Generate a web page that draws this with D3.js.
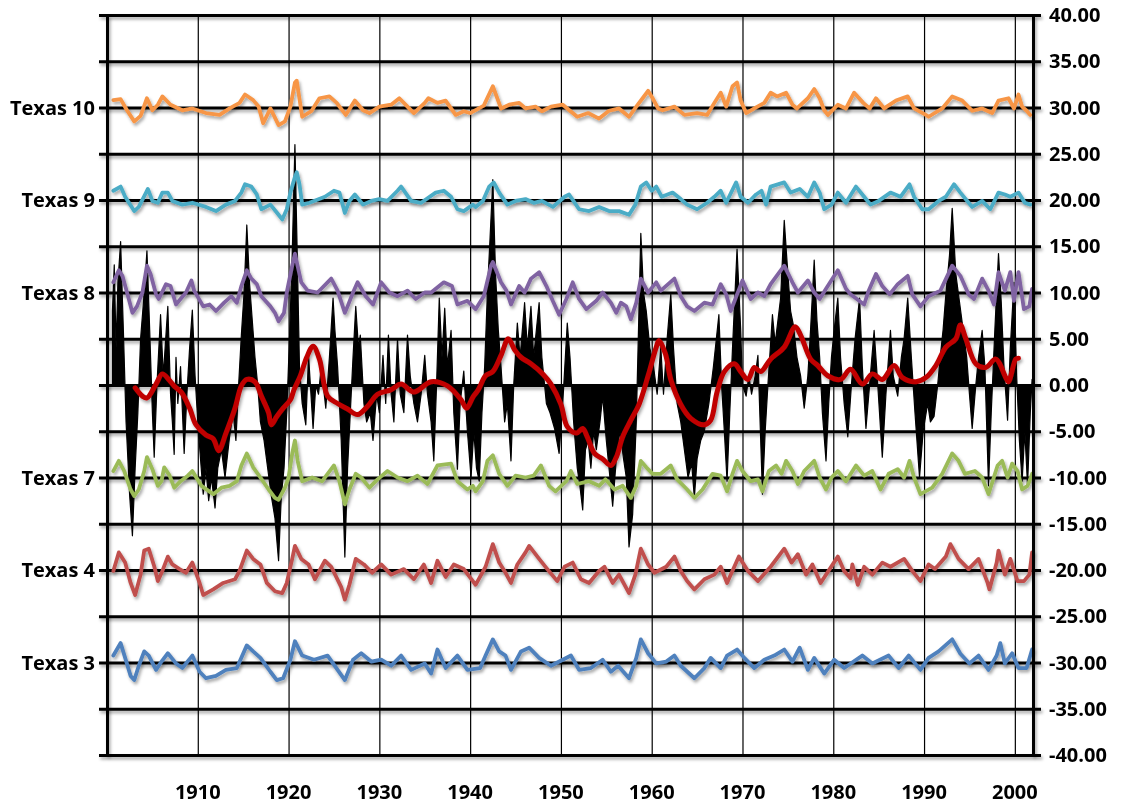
<!DOCTYPE html>
<html lang="en">
<head>
<meta charset="utf-8">
<title>Texas climate divisions</title>
<script src="https://d3js.org/d3.v7.min.js"></script>
<style>
  html, body { margin: 0; padding: 0; background: #fff; overflow: hidden; }
  svg { display: block; }
  text { font-family: "Open Sans", "DejaVu Sans", sans-serif; font-weight: 700; fill: #000; }
</style>
</head>
<body>
<script>

// ---- data: [year, value], division series are deviations from their offset ----
var names   = ["Texas 10", "Texas 9", "Texas 8", "Texas 7", "Texas 4", "Texas 3"];
var offsets = [30, 20, 10, -10, -20, -30];
var xTicks  = [1910, 1920, 1930, 1940, 1950, 1960, 1970, 1980, 1990, 2000];
var yTicks  = d3.range(-40, 41, 5);

var texas10 = [[1900.7,0.8],[1901.5,0.9],[1902.2,-0.3],[1903,-1.5],[1903.7,-0.9],[1904.4,1.0],[1905,-0.3],[1905.6,0.3],[1906.1,1.2],[1907,0.3],[1908.3,-0.3],[1909.4,-0.1],[1910.9,-0.6],[1912.4,-0.8],[1913.5,-0.1],[1914.6,0.5],[1915.2,1.4],[1916.1,0.8],[1916.7,0.1],[1917.2,-1.7],[1918,-0.1],[1918.9,-1.9],[1919.6,-1.5],[1920.2,0.1],[1920.7,2.7],[1920.9,2.9],[1921.5,-1.0],[1922.5,-0.4],[1923.4,1.0],[1924.5,1.2],[1925.3,0.5],[1926.3,-0.8],[1927.3,0.75],[1928.2,-0.3],[1928.9,-0.6],[1930,0.1],[1931.3,0.3],[1932.2,1.0],[1933.1,0.1],[1933.8,-0.6],[1935,0.5],[1935.4,1.0],[1936.4,0.5],[1937.3,0.75],[1938.4,-0.8],[1939.3,-0.4],[1940,-0.6],[1941.5,0.2],[1942.5,2.3],[1943.4,-0.1],[1944.3,0.3],[1945.4,0.5],[1946.1,-0.1],[1947.2,0.1],[1947.9,-0.4],[1948.9,0.1],[1950.2,0.3],[1951.8,-1.0],[1953,-0.6],[1954.2,-1.2],[1955.3,-0.35],[1956.4,-0.1],[1957.5,-1.0],[1958.3,0.1],[1959,1.0],[1959.6,1.8],[1960.1,1.0],[1960.7,-0.1],[1961.2,-0.3],[1962.5,0.1],[1963.6,-0.8],[1965,-0.6],[1966.1,-0.8],[1966.9,0.5],[1967.6,1.6],[1968.2,0.1],[1968.9,2.3],[1969.4,2.7],[1969.8,0.75],[1970.4,-0.6],[1971.3,-0.1],[1972.4,0.5],[1973.1,1.6],[1973.8,1.2],[1974.8,1.6],[1975.5,0.3],[1976,-0.1],[1977.2,1.0],[1977.9,2.0],[1978.5,1.0],[1979,-0.3],[1979.4,-0.8],[1980.5,0.3],[1981.4,-0.1],[1982.3,1.6],[1983.3,0.5],[1984,-0.1],[1984.7,1.0],[1985.6,-0.1],[1986.9,0.75],[1988.2,1.2],[1988.9,-0.1],[1990.2,-0.8],[1990.5,-1.0],[1992,-0.1],[1993.1,1.2],[1994.2,0.75],[1995.3,-0.35],[1996.4,-0.1],[1997.5,-0.6],[1998.2,0.75],[1999.3,1.0],[1999.9,-0.1],[2000.4,1.4],[2000.8,0.1],[2001.3,-0.35],[2001.7,-0.8]];

var texas9 = [[1900.7,1.0],[1901.5,1.45],[1902.0,0.35],[1903,-1.2],[1903.5,-0.75],[1904.3,0.8],[1904.5,1.2],[1905,-0.1],[1905.6,-0.3],[1906.1,0.8],[1906.7,0.8],[1907.2,-0.1],[1908.3,-0.5],[1909.4,-0.3],[1910.9,-0.75],[1912,-1.2],[1913.1,-0.5],[1914.1,-0.1],[1914.8,0.8],[1915.2,1.7],[1915.9,1.45],[1916.5,0.6],[1917,-1.0],[1918,-0.5],[1918.9,-1.6],[1919.3,-2.1],[1919.8,-1.0],[1920.2,0.8],[1920.7,2.5],[1920.9,3.0],[1921.2,1.7],[1921.5,-0.5],[1922.3,-0.3],[1924,0.35],[1925,1.0],[1925.6,0.8],[1926.2,-1.4],[1926.7,-0.1],[1927.3,0.6],[1928.2,-0.5],[1929.1,-0.1],[1930,0.1],[1930.9,-0.1],[1932,1.0],[1932.4,1.45],[1933.5,-0.1],[1934.6,-0.3],[1936.2,0.8],[1937.1,1.0],[1937.9,0.35],[1938.6,-1.0],[1939.3,-1.2],[1940.3,-0.5],[1940.6,-0.75],[1941.4,-0.1],[1942.1,1.45],[1942.6,1.9],[1943.2,0.8],[1944.1,-0.5],[1945,-0.1],[1946.1,0.1],[1947,-0.3],[1947.9,-0.1],[1949.1,-0.75],[1950.4,0.35],[1950.9,0.6],[1952,-1.0],[1953.1,-1.2],[1954.2,-0.75],[1955.3,-1.2],[1956.4,-1.2],[1957.5,-1.6],[1958.2,-0.5],[1958.8,1.45],[1959.4,1.9],[1960,1.0],[1960.5,1.45],[1961.1,0.35],[1962.3,0.8],[1963.2,0.1],[1963.9,-0.5],[1965,-1.0],[1966.1,-0.3],[1966.9,0.35],[1967.6,1.0],[1968.2,-0.3],[1969.3,1.9],[1969.8,0.35],[1970.6,-0.3],[1971.5,0.6],[1972.1,1.0],[1972.6,-0.5],[1973.1,1.45],[1974.6,1.9],[1975.3,0.8],[1976.3,1.2],[1977.2,0.35],[1977.9,1.9],[1978.5,0.8],[1979,-1.0],[1979.8,-0.5],[1980.5,0.8],[1981.4,-0.3],[1982.5,1.45],[1983.4,0.35],[1984.1,-0.5],[1985,-0.1],[1986.3,0.8],[1987.4,0.35],[1988.4,1.7],[1988.9,0.35],[1989.8,-1.0],[1990.5,-1.0],[1991.6,-0.1],[1992.4,0.35],[1993.3,1.7],[1994,0.8],[1995.3,-0.75],[1996.4,-0.1],[1997.3,-1.0],[1998.2,0.8],[1998.9,0.6],[1999.5,0.35],[2000.4,0.8],[2001.1,-0.3],[2001.7,-0.5]];

var texas8 = [[1900.7,1.1],[1901.3,2.4],[1901.7,1.8],[1902.4,-0.7],[1902.8,-2.2],[1903.3,-1.5],[1903.9,0],[1904.4,2.9],[1904.8,2.0],[1905.4,-0.2],[1905.7,-0.7],[1906.5,0.9],[1907,0.7],[1907.6,-1.3],[1908.1,-0.7],[1908.7,0],[1909.3,1.3],[1909.6,0.2],[1910.6,-1.5],[1911.3,-1.3],[1912,-2.0],[1912.9,-1.1],[1913.7,-0.4],[1914.3,-1.1],[1914.8,0.7],[1915.4,2.4],[1915.9,1.5],[1916.5,0.9],[1917,-0.4],[1918,-1.5],[1918.5,-2.2],[1918.9,-3.1],[1919.5,-2.2],[1919.8,0],[1920.4,2.9],[1920.7,4.2],[1921.4,1.1],[1922.1,0.2],[1923.2,0],[1924.7,1.5],[1925.4,0.2],[1926.2,-2.2],[1926.5,-1.5],[1927.1,0],[1927.6,1.1],[1928.5,-0.4],[1929.3,-1.3],[1930.2,1.1],[1931.1,0],[1932,-0.4],[1933.1,0.2],[1934,-0.7],[1935,0],[1935.7,0],[1937.1,1.1],[1938,0.7],[1938.6,-1.3],[1939.7,-0.9],[1940.6,-1.8],[1941.5,-0.4],[1942.3,2.9],[1942.5,3.3],[1943.4,1.1],[1944,0.2],[1944.5,-1.3],[1945.4,0.7],[1946,0],[1946.7,1.5],[1947.6,2.2],[1948.4,0.7],[1949.1,-0.9],[1949.8,-2.4],[1950.6,-0.7],[1951.3,1.1],[1952,-0.7],[1952.8,-1.8],[1953.9,-0.9],[1954.6,0],[1955.5,-1.1],[1956.1,-2.2],[1956.6,-1.1],[1957.2,-1.5],[1957.7,-2.9],[1958.3,-1.1],[1958.8,1.5],[1959.6,0],[1960.5,1.1],[1961,0.2],[1962.5,1.5],[1963.2,-0.4],[1963.9,-1.5],[1964.7,-2.0],[1965.8,-1.1],[1966.7,-1.3],[1967.6,0.9],[1968.2,-0.2],[1968.7,-2.0],[1969.4,-0.2],[1970,1.3],[1970.9,-0.7],[1971.7,0],[1972.4,-0.4],[1973.1,0.9],[1974.6,2.9],[1975.5,1.1],[1976.1,0],[1977.2,1.3],[1977.9,0],[1978.5,-0.7],[1979.2,0.4],[1980.5,2.4],[1981.4,0.4],[1981.9,-0.2],[1983.4,-1.3],[1983.9,0.2],[1984.7,2.0],[1985.4,0.7],[1986.2,-0.2],[1987.1,0.9],[1988.2,1.8],[1988.7,-0.2],[1989.6,-1.5],[1990.5,-0.4],[1991.8,0.2],[1993.1,2.9],[1994,1.8],[1994.9,-0.2],[1995.5,-0.7],[1996.4,1.5],[1997.1,0.2],[1997.7,-1.3],[1998.2,2.2],[1998.9,0.2],[1999.5,2.2],[1999.9,-0.9],[2000.4,2.2],[2001,-1.8],[2001.6,-1.5],[2001.9,0.4]];

var texas7 = [[1900.7,0.7],[1901.3,1.8],[1901.9,0.7],[1902.6,-1.3],[1903,-2.0],[1903.5,-1.3],[1904.1,0.7],[1904.4,2.2],[1905,0.9],[1905.6,-0.9],[1906,-0.4],[1906.3,1.1],[1906.9,0.2],[1907.4,-1.1],[1908.1,-0.4],[1908.9,0.2],[1909.4,0.7],[1910.4,-0.9],[1911.7,-1.8],[1912.6,-1.1],[1913.5,-0.9],[1914.3,-0.4],[1914.8,1.3],[1915.4,2.6],[1916.1,1.1],[1916.9,0],[1917.8,-1.3],[1918.5,-2.2],[1918.9,-2.4],[1919.6,-1.1],[1920,0],[1920.4,2.6],[1920.7,4.0],[1921,1.8],[1921.5,-0.4],[1922.6,0],[1923.7,-0.4],[1925,1.3],[1925.6,-0.4],[1926.2,-2.9],[1926.7,-1.3],[1927.4,0.4],[1928,0],[1928.9,-1.1],[1929.8,-0.2],[1930.9,0.7],[1932,0],[1933.1,-0.4],[1934.2,0.2],[1935.3,-0.7],[1936.4,1.3],[1937.9,1.5],[1938.6,-0.4],[1939.7,-1.3],[1940.3,-0.9],[1940.6,-1.5],[1941.4,-0.4],[1941.9,1.8],[1942.5,2.4],[1943.2,0.4],[1944.1,-0.9],[1945,0.2],[1946.1,0],[1947,0.2],[1947.8,1.3],[1948.7,-0.9],[1949.4,-1.5],[1950.6,-0.4],[1951.1,0.7],[1951.8,-0.7],[1953.1,-0.4],[1954.2,-0.9],[1954.9,-0.2],[1955.9,-1.3],[1956.8,-0.9],[1957.7,-2.2],[1958.3,-0.9],[1958.8,1.8],[1959.4,1.1],[1960.1,0.4],[1961,0.4],[1962.1,1.3],[1962.8,-0.2],[1963.9,-1.3],[1964.7,-2.2],[1965.6,-1.3],[1966.7,0.4],[1967.6,0.2],[1968.3,-1.5],[1968.9,0.4],[1969.4,1.8],[1970,0.7],[1970.9,-0.4],[1971.7,-0.2],[1972.2,-1.5],[1972.9,0.7],[1973.7,1.3],[1974.3,0.4],[1974.8,1.8],[1975.5,0.7],[1976.1,-0.7],[1976.8,0.7],[1977.9,1.8],[1978.5,0],[1979.2,-1.3],[1979.8,0],[1980.5,0.7],[1981.4,-0.4],[1982.5,1.3],[1983.4,0.2],[1984.3,0.7],[1985.2,-1.3],[1986.1,0.4],[1987.1,0.9],[1987.8,0],[1988.4,1.8],[1988.9,0],[1989.6,-1.8],[1990.9,-1.1],[1992,0.4],[1993.1,2.6],[1993.8,1.8],[1994.5,0.4],[1995.6,0.7],[1996.4,0],[1997.1,-1.8],[1998.1,1.3],[1998.6,1.8],[1999.2,0],[1999.7,1.5],[2000.3,0.7],[2000.8,-1.3],[2001.4,-0.9],[2001.9,0.4]];

var texas4 = [[1900.7,-0.1],[1901.3,1.9],[1902,0.8],[1902.6,-1.4],[1903.1,-2.7],[1903.7,-0.5],[1904.1,2.1],[1904.6,2.3],[1905.2,0.4],[1905.6,-1.2],[1906.1,-0.1],[1906.7,1.45],[1907.2,0.6],[1908,0.1],[1908.7,-0.3],[1909.4,0.8],[1910.2,-1.4],[1910.6,-2.7],[1911.7,-2.1],[1912.8,-1.4],[1914.1,-1.0],[1914.6,-0.1],[1915.4,2.1],[1916.1,1.2],[1916.9,0.6],[1917.6,-1.4],[1918.5,-2.3],[1919.3,-2.5],[1919.8,-1.4],[1920.4,1.2],[1920.7,2.6],[1921.4,1.2],[1922.2,0.6],[1922.9,-1.0],[1924,1.0],[1924.7,0.35],[1925.8,-1.85],[1926.2,-3.2],[1926.7,-1.6],[1927.4,1.2],[1928.3,0.6],[1929.2,-0.3],[1930.2,0.6],[1931.3,-0.5],[1932.7,0.1],[1933.8,-1.0],[1934.9,0.6],[1935.7,-1.4],[1936.4,1.0],[1937.3,-0.75],[1938.2,0.6],[1939.3,0.1],[1940.3,-1.2],[1940.6,-1.6],[1941.7,0.35],[1942.5,2.8],[1943.2,0.8],[1943.9,-0.3],[1944.5,-1.4],[1945.2,0.6],[1946.1,1.9],[1946.5,2.6],[1947.6,1.2],[1948.5,0.1],[1949.6,-1.2],[1950.4,0.35],[1951.3,0.8],[1952.2,-1.0],[1953.1,-1.4],[1954.2,-0.1],[1954.8,0.35],[1955.7,-1.4],[1956.4,-0.5],[1957.5,-2.5],[1958.2,-0.5],[1958.8,2.3],[1959.6,0.6],[1960.3,-0.3],[1961.6,0.35],[1962.5,1.45],[1963.2,-0.1],[1963.9,-1.2],[1964.7,-2.1],[1965.8,-1.0],[1966.9,-0.5],[1967.6,0.35],[1968.3,-1.4],[1969.6,1.45],[1970.6,-0.1],[1971.7,-1.2],[1973.1,0.35],[1974.6,2.3],[1975.4,0.8],[1976.1,1.7],[1977,-0.5],[1977.7,0.6],[1978.6,-1.4],[1980.5,1.45],[1981.2,-0.1],[1981.9,-0.9],[1982.1,0.6],[1982.7,-1.6],[1983.4,0.35],[1984.3,-0.5],[1985.4,0.8],[1986.3,0.35],[1987.8,1.2],[1988.7,-0.1],[1989.6,-1.2],[1990.5,0.6],[1991.2,0.1],[1992.4,1.45],[1992.9,2.8],[1993.8,1.2],[1994.9,0.1],[1996,1.2],[1997,-1.4],[1997.2,-2.1],[1998.0,0.8],[1998.2,2.1],[1998.9,-0.5],[1999.5,1.2],[2000.3,-1.2],[2001,-1.2],[2001.6,-0.5],[2001.9,1.9]];

var texas3 = [[1900.7,0.75],[1901.5,2.1],[1902,0.5],[1902.6,-1.45],[1903,-1.9],[1903.5,-0.35],[1904.1,1.2],[1904.6,0.75],[1905.4,-0.8],[1906,0.1],[1906.7,1.0],[1907.6,-0.1],[1908.3,-0.6],[1909.4,0.75],[1910.2,-1.0],[1910.9,-1.7],[1912,-1.45],[1913.1,-0.8],[1914.3,-0.6],[1915.4,1.85],[1916.1,1.2],[1916.9,0.5],[1918,-1.0],[1918.7,-1.9],[1919.4,-1.7],[1920.2,0.3],[1920.7,2.3],[1921.5,0.75],[1922.8,0.3],[1924.3,0.75],[1925.4,-0.8],[1926.2,-1.9],[1927.1,0.3],[1928,1.0],[1929.1,0.1],[1930.2,0.3],[1931.3,-0.35],[1932.4,0.75],[1933.5,-0.8],[1935,-0.1],[1935.7,-1.2],[1936.4,1.4],[1937.3,-0.6],[1938.6,0.75],[1939.7,-0.8],[1941.1,-0.6],[1941.7,0.75],[1942.5,2.5],[1943.2,1.2],[1943.9,0.75],[1944.5,-0.8],[1945.6,1.2],[1946.5,1.6],[1947.6,0.5],[1948.9,-0.35],[1950.2,0.3],[1951.1,0.75],[1952,-0.8],[1953.3,-0.6],[1954.6,0.3],[1955.5,-1.0],[1956.3,-0.35],[1957.5,-1.7],[1958.3,0.5],[1958.8,2.5],[1959.6,1.0],[1960.5,-0.1],[1961.6,0.1],[1962.5,0.75],[1963.2,-0.35],[1964.7,-1.7],[1965.8,-0.6],[1966.5,0.5],[1967.6,-0.6],[1968.3,0.75],[1969.4,1.4],[1970.2,0.5],[1971.3,-0.6],[1972.4,0.3],[1973.5,0.75],[1974.6,1.4],[1975.5,0.1],[1976.3,1.6],[1977.2,-0.8],[1977.9,0.5],[1979,-1.2],[1980.1,0.3],[1981.2,-0.6],[1983.2,0.75],[1984.3,-0.1],[1986.1,0.75],[1987.2,-0.6],[1988.3,0.75],[1989.6,-0.8],[1990.5,0.5],[1991.6,1.2],[1993.1,2.5],[1994,0.95],[1995,-0.1],[1996,0.75],[1997.1,-0.8],[1998,0.75],[1998.4,2.1],[1998.9,-0.1],[1999.7,1.0],[2000.4,-0.6],[2001.3,-0.6],[2001.9,1.4]];

// black filled series around zero
var statewide = [[1900.6,8],[1900.8,13],[1901.0,4],[1901.2,11],[1901.5,15.5],[1901.8,6],[1902.1,-4],[1902.5,-12],[1902.8,-16.3],[1903.1,-9],[1903.4,-3],[1903.7,5],[1904.1,10],[1904.4,14.5],[1904.7,6],[1905.0,-3],[1905.2,-7.8],[1905.5,0],[1905.9,7.6],[1906.2,1],[1906.4,4],[1906.7,8.5],[1907.0,-1],[1907.2,-4],[1907.4,-7.5],[1907.6,3],[1907.8,-2],[1908.1,2],[1908.5,-7.4],[1908.8,-1],[1909.1,4],[1909.4,8.1],[1909.7,1],[1910.0,-4],[1910.3,-8],[1910.6,-11.8],[1910.9,-9],[1911.2,-12.5],[1911.5,-10],[1911.9,-13.3],[1912.2,-9],[1912.6,-7],[1913.0,-10],[1913.5,-5.6],[1913.9,-3],[1914.2,-6],[1914.5,0],[1914.8,5.4],[1915.1,10],[1915.4,17.3],[1915.7,11],[1916.0,7],[1916.3,3],[1916.6,0],[1916.9,-4],[1917.3,-6],[1917.7,-9],[1918.1,-12],[1918.5,-14.4],[1918.9,-19.0],[1919.2,-12],[1919.5,-9],[1919.8,-3],[1920.1,5],[1920.4,14],[1920.7,26],[1921.0,12],[1921.2,2],[1921.5,-2],[1921.9,-4.3],[1922.2,3.2],[1922.7,-4.7],[1923.0,0],[1923.3,-1],[1923.6,2],[1924.1,-2.5],[1924.5,3],[1924.9,9.4],[1925.1,6],[1925.4,2],[1925.8,-6],[1926.2,-18.6],[1926.5,-9],[1926.8,-3],[1927.1,3],[1927.4,8.5],[1927.7,4],[1927.9,5.4],[1928.3,-2],[1928.6,-4],[1929.0,-3],[1929.3,-6.0],[1929.7,-1],[1930.0,-3],[1930.4,3.2],[1930.7,-2],[1931.0,5.4],[1931.3,-1],[1931.6,-4],[1932.0,5.0],[1932.3,-1],[1932.7,-3],[1933.1,5.4],[1933.4,1],[1933.8,-2],[1934.2,-4],[1934.6,-1],[1935.0,3.2],[1935.3,-1],[1935.7,-4],[1936.0,-8.2],[1936.3,0],[1936.6,9.4],[1936.9,3],[1937.2,8.3],[1937.5,2],[1937.9,5.9],[1938.2,-3],[1938.6,-9.1],[1938.9,-2],[1939.3,1.5],[1939.7,-5],[1940.1,-10],[1940.4,-5],[1940.7,-9],[1941.0,-10.4],[1941.3,-3],[1941.6,2],[1941.9,10],[1942.2,16],[1942.5,22.2],[1942.8,12],[1943.1,6],[1943.4,2],[1943.8,-4],[1944.1,-2],[1944.5,-8.2],[1944.8,0],[1945.2,6.7],[1945.5,3],[1946.0,8.9],[1946.3,4],[1946.7,8.5],[1947.0,3],[1947.3,6],[1947.6,8.9],[1947.9,3],[1948.4,-2],[1948.8,-3],[1949.3,-4.7],[1949.8,-7.4],[1950.2,-2],[1950.7,6.7],[1951.0,3],[1951.4,-4],[1951.8,-9],[1952.1,-11],[1952.4,-13.5],[1952.7,-7],[1953.0,-6],[1953.3,-9],[1953.6,-5],[1953.9,-7],[1954.3,-4],[1954.6,-1.2],[1955.0,-6],[1955.4,-10],[1955.7,-13.1],[1956.1,-8],[1956.5,-5],[1956.9,-8],[1957.2,-10],[1957.5,-17.5],[1957.9,-14],[1958.3,-4],[1958.8,16.4],[1959.1,10],[1959.4,8],[1959.8,4],[1960.2,2],[1960.6,-1],[1961.0,4.1],[1961.3,-1],[1961.7,5],[1962.1,9.8],[1962.4,4],[1962.8,-2],[1963.2,-4],[1963.6,-7],[1964.0,-10],[1964.4,-8.5],[1964.7,-12.2],[1965.0,-8],[1965.4,-6],[1965.8,-5],[1966.3,-2],[1966.8,2],[1967.4,7.6],[1967.7,0],[1968.0,-5],[1968.3,-10.4],[1968.6,-3],[1968.9,4],[1969.4,14.7],[1969.8,6],[1970.0,0],[1970.4,-1.2],[1970.7,1],[1971.0,-1],[1971.4,1],[1971.7,3.2],[1972.2,-11.8],[1972.5,-5],[1972.8,0],[1973.3,7.6],[1973.6,4.5],[1974.2,9.4],[1974.6,17.8],[1975.0,12],[1975.3,8],[1975.6,6.5],[1976.0,3],[1976.4,1],[1976.8,-2.5],[1977.2,1],[1977.5,6],[1977.9,13.5],[1978.2,7],[1978.5,3],[1978.8,-3],[1979.2,-8.2],[1979.5,-2],[1979.8,3],[1980.1,6],[1980.5,9.4],[1980.8,3],[1981.2,-2],[1981.6,-5.6],[1982.0,0],[1982.4,5],[1982.9,9.4],[1983.2,2],[1983.6,-4.7],[1984.0,0],[1984.5,5.9],[1984.9,0],[1985.4,-7.8],[1985.8,-1],[1986.3,5.9],[1986.6,1],[1987.1,-1.2],[1987.5,3],[1987.8,5],[1988.2,9.4],[1988.6,3],[1989.0,-3],[1989.5,-10],[1989.9,-5],[1990.4,-2],[1990.7,-4],[1991.1,-3.4],[1991.5,0],[1991.8,3.2],[1992.1,6],[1992.4,9.8],[1992.8,14],[1993.1,19.1],[1993.5,12],[1993.9,9],[1994.3,6],[1994.7,3],[1995.0,-1],[1995.3,-4.7],[1995.7,0],[1996.0,3],[1996.4,5.9],[1996.7,2],[1997.1,-10.9],[1997.4,-3],[1997.8,6],[1998.2,14.2],[1998.5,9],[1998.8,2],[1999.2,-3.8],[1999.5,4],[1999.9,11.1],[2000.2,1],[2000.5,-6],[2000.8,-10.4],[2001.1,-5],[2001.4,-10.9],[2001.7,-3],[2001.9,0.6]];

// smoothed red trend
var trend = [[1903.1,-0.3],[1903.9,-1.2],[1904.4,-1.4],[1905.4,0.1],[1906.1,1.2],[1906.8,0.6],[1907.4,-0.1],[1908.2,-0.8],[1909.1,-2.5],[1909.8,-4.3],[1910.9,-5.4],[1911.7,-5.8],[1912.3,-7.1],[1913.1,-5.2],[1914.1,-2.5],[1914.8,-0.1],[1915.4,0.6],[1916.3,0.35],[1917.0,-1.2],[1917.8,-3.0],[1918.1,-4.3],[1918.7,-3.4],[1919.4,-2.5],[1920.2,-1.6],[1920.6,-0.5],[1921.3,1.0],[1922.0,3.0],[1922.7,4.2],[1923.4,2.8],[1924.3,-1.2],[1925.4,-2.0],[1926.5,-2.6],[1927.6,-3.2],[1928.7,-2.3],[1929.8,-1.0],[1931.3,-0.5],[1932.4,0.1],[1933.8,-0.75],[1935.7,0.35],[1937.5,-0.1],[1939.0,-1.6],[1939.6,-2.5],[1940.3,-1.3],[1940.9,-0.5],[1941.7,1.0],[1942.5,1.45],[1943.4,3.2],[1944.2,5.0],[1944.9,3.8],[1945.6,3.0],[1946.7,2.3],[1948.0,1.2],[1948.9,0.1],[1950.0,-2.1],[1950.7,-4.5],[1951.7,-5.2],[1952.4,-4.7],[1952.9,-5.6],[1953.7,-7.4],[1954.6,-8.0],[1955.5,-8.7],[1956.1,-7.8],[1956.8,-5.6],[1957.7,-3.8],[1958.6,-2.1],[1959.6,1.0],[1960.5,4.1],[1960.8,4.8],[1961.5,3.4],[1962.1,0.6],[1963.2,-2.1],[1964.3,-3.6],[1965.8,-4.3],[1966.5,-3.8],[1967.2,-0.75],[1968.0,1.45],[1969.1,2.3],[1969.8,1.45],[1970.6,0.6],[1971.3,1.9],[1972.0,1.45],[1973.1,2.8],[1974.6,4.1],[1975.8,6.3],[1976.4,5.4],[1977.5,2.8],[1978.3,2.1],[1979.4,1.0],[1980.8,0.6],[1981.9,1.7],[1983.2,0.1],[1984.3,1.2],[1985.4,0.6],[1986.7,2.1],[1987.6,0.8],[1989.1,0.35],[1990.2,0.8],[1991.3,2.1],[1992.4,4.1],[1993.5,5.0],[1994.0,6.5],[1994.6,5.0],[1995.7,2.3],[1996.8,1.9],[1997.9,2.8],[1999.0,0.8],[1999.3,0.35],[2000.1,2.8],[2000.4,2.9]];

var divisions = [texas10, texas9, texas8, texas7, texas4, texas3];
var colors = ["#F79646", "#4BACC6", "#8064A2", "#9BBB59", "#C0504D", "#4F81BD"];

// ---- layout ----
var w = 1122;
var h = 809;
var margin = {top: 15, right: 89, bottom: 54, left: 107};
var innerWidth = w - margin.left - margin.right;
var innerHeight = h - margin.top - margin.bottom;

var svg = d3.select("body")
  .append("svg")
    .attr("width", w)
    .attr("height", h)
    .attr("viewBox", `0 0 ${w} ${h}`);

// soft drop shadow like the spreadsheet original; a big user-space region so
// thin or translated lines are never clipped by the filter
svg.append("defs")
  .append("filter")
    .attr("id", "shadow")
    .attr("filterUnits", "userSpaceOnUse")
    .attr("x", -1500).attr("y", -200)
    .attr("width", 3000).attr("height", 1300)
  .append("feDropShadow")
    .attr("dx", 1.5).attr("dy", 2.5)
    .attr("stdDeviation", 1.4)
    .attr("flood-color", "#000")
    .attr("flood-opacity", 0.35);

var xScale = d3.scaleLinear()
    .domain([1900, 2002])
    .range([margin.left, margin.left + innerWidth]);

var yScale = d3.scaleLinear()
    .domain([-40, 40])
    .range([margin.top + innerHeight, margin.top]);

// vertical grid
var xGrid = d3.axisBottom(xScale)
    .tickValues(xTicks)
    .tickSize(-innerHeight)
    .tickFormat("");

svg.append("g")
    .attr("class", "xGrid")
    .attr("transform", `translate(0, ${margin.top + innerHeight})`)
    .call(xGrid)
    .call(g => g.select(".domain").remove())
    .call(g => g.selectAll("line").attr("stroke", "#000").attr("stroke-width", 1.2));

// horizontal grid with small outside ticks on both sides
var yGrid = d3.axisLeft(yScale)
    .tickValues(yTicks)
    .tickSize(innerWidth + 16)
    .tickFormat("");

svg.append("g")
    .attr("class", "yGrid")
    .attr("transform", `translate(${margin.left + innerWidth + 8}, 0)`)
    .attr("filter", "url(#shadow)")
    .call(yGrid)
    .call(g => g.select(".domain").remove())
    .call(g => g.selectAll("line").attr("stroke", "#000").attr("stroke-width", 3));

// black filled series
var area = d3.area()
    .x(d => xScale(d[0]))
    .y0(yScale(0))
    .y1(d => yScale(d[1]));

svg.append("path")
    .datum(statewide)
    .attr("d", area)
    .attr("fill", "#000")
    .attr("stroke", "#000")
    .attr("stroke-width", 1.2)
    .attr("stroke-linejoin", "round");

// division lines, each shifted to its own offset
var lineGroup = svg.append("g")
    .attr("filter", "url(#shadow)");

divisions.forEach(function(data, i) {
  var line = d3.line()
      .x(d => xScale(d[0]))
      .y(d => yScale(offsets[i] + d[1]));
  lineGroup.append("path")
      .datum(data)
      .attr("d", line)
      .attr("fill", "none")
      .attr("stroke", colors[i])
      .attr("stroke-width", 3.8)
      .attr("stroke-linejoin", "round")
      .attr("stroke-linecap", "round");
});

// red trend
var trendLine = d3.line()
    .x(d => xScale(d[0]))
    .y(d => yScale(d[1]))
    .curve(d3.curveCatmullRom.alpha(0.5));

lineGroup.append("path")
    .datum(trend)
    .attr("d", trendLine)
    .attr("fill", "none")
    .attr("stroke", "#C00000")
    .attr("stroke-width", 5)
    .attr("stroke-linejoin", "round")
    .attr("stroke-linecap", "round");

// frame: left and right axis lines
[margin.left, margin.left + innerWidth].forEach(function(px) {
  svg.append("g")
      .attr("transform", `translate(${px}, 0)`)
      .call(d3.axisLeft(yScale).tickValues([]).tickSizeOuter(0))
      .call(g => g.select(".domain")
          .attr("stroke", "#000").attr("stroke-width", 3)
          .attr("filter", "url(#shadow)"));
});

// value labels on the right
svg.append("g")
  .selectAll("text")
  .data(yTicks)
  .enter().append("text")
    .attr("x", margin.left + innerWidth + 16)
    .attr("y", d => yScale(d))
    .attr("dy", "0.35em")
    .attr("font-size", 20)
    .text(d => d.toFixed(2));

// year labels along the bottom
svg.append("g")
  .selectAll("text")
  .data(xTicks)
  .enter().append("text")
    .attr("x", d => xScale(d))
    .attr("y", margin.top + innerHeight + 44)
    .attr("text-anchor", "middle")
    .attr("font-size", 20)
    .text(d => d);

// division names on the left
svg.append("g")
  .selectAll("text")
  .data(names)
  .enter().append("text")
    .attr("x", margin.left - 12)
    .attr("y", (d, i) => yScale(offsets[i]))
    .attr("dy", "0.35em")
    .attr("text-anchor", "end")
    .attr("font-size", 20)
    .text(d => d);

</script>
</body>
</html>
